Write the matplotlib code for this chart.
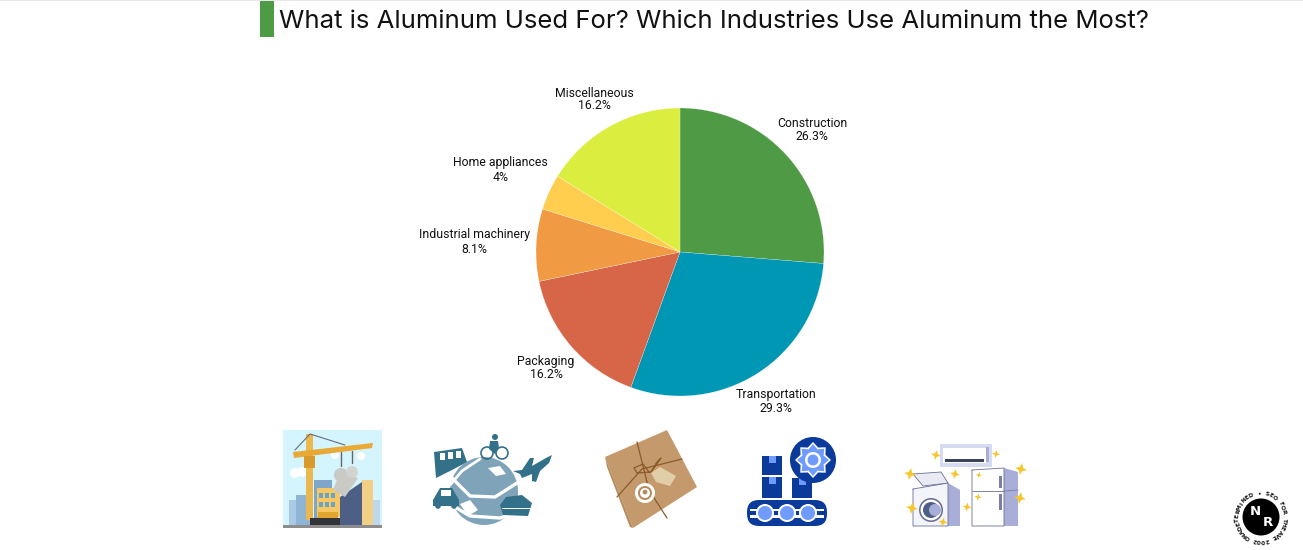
import numpy as np
import matplotlib
matplotlib.use("Agg")
import matplotlib.pyplot as plt
from matplotlib.patches import Rectangle, Polygon, Circle, FancyBboxPatch

# chart data
categories = ["Construction", "Transportation", "Packaging", "Industrial machinery", "Home appliances", "Miscellaneous"]
shares = [26.3, 29.3, 16.2, 8.1, 4, 16.2]
share_labels = ["26.3%", "29.3%", "16.2%", "8.1%", "4%", "16.2%"]
colors = ["#4f9a45", "#0097b5", "#d66647", "#f09a44", "#ffce4f", "#dbed3f"]
label_radius = [1.25, 1.236, 1.23, 1.43, 1.37, 1.215]
label_spacing = [0.92, 1.12, 1.05, 1.12, 1.12, 0.92]

title = "What is Aluminum Used For? Which Industries Use Aluminum the Most?"

W, H = 1303, 550
fig = plt.figure(figsize=(W / 100, H / 100), dpi=100, facecolor="white")

# pie axes sits at pixel box 536..824 / 108..396
ax = fig.add_axes([536 / W, 1 - 396 / H, 288 / W, 288 / H])
wedges, _ = ax.pie(shares, colors=colors, startangle=90, counterclock=False, radius=1,
                   wedgeprops={"linewidth": 0.15, "edgecolor": "white"})
ax.set_xlim(-1, 1)
ax.set_ylim(-1, 1)
for w in wedges:
    w.set_clip_on(False)

for w, name, pct, r, sp in zip(wedges, categories, share_labels, label_radius, label_spacing):
    ang = np.deg2rad((w.theta1 + w.theta2) / 2)
    ax.text(r * np.cos(ang), r * np.sin(ang), name + "\n" + pct, ha="center", va="center",
            fontsize=8.8, family="Roboto", color="#111111", linespacing=sp, clip_on=False)

# everything else is drawn on an overlay in pixel coordinates
ov = fig.add_axes([0, 0, 1, 1], zorder=-1)
ov.set_xlim(0, W)
ov.set_ylim(H, 0)
ov.axis("off")


def rect(x0, y0, x1, y1, c, z=2):
    ov.add_patch(Rectangle((x0, y0), x1 - x0, y1 - y0, fc=c, ec="none", zorder=z))


def poly(pts, c, z=2):
    ov.add_patch(Polygon(pts, closed=True, fc=c, ec="none", zorder=z))


def circ(x, y, r, c, z=2):
    ov.add_patch(Circle((x, y), r, fc=c, ec="none", zorder=z))


def line(xs, ys, c, lw=1.0, z=3):
    ov.plot(xs, ys, color=c, lw=lw, zorder=z, solid_capstyle="round")


def star(x, y, r, c="#f7c52c", z=4):
    a = np.arange(8) * np.pi / 4 + 0.2
    rr = np.where(np.arange(8) % 2 == 0, r, r * 0.4)
    poly(np.c_[x + rr * np.cos(a), y + rr * np.sin(a)], c, z)


# header
rect(0, 0, W, 1, "#e6e8ee")
rect(260, 1, 274, 37, "#4f9a45")
ov.text(279, 21, title, fontsize=18.5, family="Inter", color="#111111", va="center", ha="left")

# crane picture
rect(283, 430, 382, 528, "#d4f5fd", 1)
rect(283, 525, 382, 528, "#8d8d8d", 2)
for x0, y0, x1, c in [(289, 500, 298, "#a9c9e6"), (296, 495, 310, "#8fb5d4"),
                      (314, 480, 332, "#7fa6c9"), (373, 500, 380, "#bcd8ea")]:
    rect(x0, y0, x1, 525, c)
poly([(340, 497), (362, 482), (362, 525), (340, 525)], "#4d5f85", 3)
rect(362, 480, 373, 525, "#f2cf87", 3)
rect(317, 488, 340, 517, "#f5c765", 3)
poly([(333, 490), (340, 472), (358, 478), (345, 497)], "#c9c9c6", 4)
circ(341, 475, 7, "#c9c9c6", 4)
circ(352, 472, 6, "#d3d3d0", 4)
for yy in (493, 502):
    for xx in (319, 325, 331):
        rect(xx, yy, xx + 3.6, yy + 5, "#6aa5c4", 5)
rect(306, 434, 313, 520, "#eab84f", 5)
rect(304, 456, 315, 468, "#d99a2c", 6)
poly([(293, 452), (373, 443), (372, 448), (294, 458)], "#e8a936", 5)
line([295, 310, 345], [450, 434, 445], "#6b6b80", 0.8, 6)
line([341, 341], [452, 466], "#666666", 1.0, 6)
line([352, 352], [451, 463], "#666666", 1.0, 6)
rect(310, 518, 340, 525, "#33333a", 6)
rect(318, 512, 338, 518, "#e0a52f", 6)
circ(295, 473, 5, "white", 2)
circ(302, 472, 5, "white", 2)
circ(335, 455, 4, "white", 2)
circ(361, 456, 4, "white", 2)

# transport globe picture
dark = "#33708a"
circ(484, 491, 34, "#7fa3b8")
poly([(488, 468), (500, 466), (506, 474), (496, 476)], "white", 3)
poly([(460, 504), (470, 500), (478, 510), (468, 516)], "white", 3)
line([452, 470, 495, 517], [478, 496, 497, 483], "white", 2.4)
line([448, 470, 500, 520], [503, 516, 518, 512], "white", 2.4)
line([450, 462, 480], [485, 471, 459], "white", 2.0)
poly([(434, 452), (462, 448), (467, 462), (452, 470), (436, 478)], dark, 4)
rect(440, 453, 445, 460, "white", 5)
rect(448, 452, 453, 459, "white", 5)
rect(456, 451, 461, 458, "white", 5)
poly([(433, 500), (440, 488), (452, 488), (459, 500), (459, 506), (433, 506)], dark, 4)
circ(438, 506, 2.8, dark, 4)
circ(454, 506, 2.8, dark, 4)
rect(441, 490, 451, 496, "white", 5)
poly([(500, 505), (506, 497), (522, 495), (532, 503), (528, 516), (503, 515)], dark, 4)
line([502, 530], [508, 508], "white", 0.7, 5)
for bx in (487, 502):
    ov.add_patch(Circle((bx, 453), 6, fc="none", ec=dark, lw=1.2, zorder=4))
circ(495, 437, 3, dark, 4)
poly([(490, 441), (498, 441), (499, 448), (495, 454), (489, 449)], dark, 4)
poly([(513, 471), (522, 470), (530, 458), (534, 458), (532, 466), (546, 458), (552, 455), (549, 463),
      (540, 471), (536, 482), (532, 481), (532, 474), (522, 478), (520, 474)], dark, 4)

# parcel picture
poly([(605, 457), (667, 430), (697, 487), (633, 528)], "#c49a6c")
poly([(605, 457), (607, 467), (630, 527), (633, 528), (611, 472)], "#b58a5d", 3)
line([637, 649, 667], [442, 490, 518], "#8a5a2b", 0.9)
line([617, 642, 682], [497, 469, 459], "#8a5a2b", 0.9)
line([649, 643, 634, 637, 651], [472, 464, 468, 473, 472], "#8a5a2b", 0.9)
line([651, 657, 661, 654, 651], [472, 462, 458, 468, 472], "#8a5a2b", 0.9)
poly([(651, 473), (660, 467), (676, 476), (670, 486), (656, 482)], "#e2cda9", 4)
circ(645, 493, 10, "white", 4)
circ(645, 493, 7, "#b58a5d", 5)
circ(645, 493, 5, "white", 6)
circ(645, 492, 2.4, "#b58a5d", 7)

# conveyor picture
navy = "#0a3a9a"
ov.add_patch(FancyBboxPatch((747, 500), 80, 26, boxstyle="round,pad=0,rounding_size=12",
                            fc=navy, ec="none", zorder=2))
rect(750, 509, 824, 518, "white", 3)
rect(748, 511, 760, 515, navy, 4)
rect(772, 511, 780, 515, navy, 4)
rect(795, 511, 801, 515, navy, 4)
rect(815, 511, 826, 515, navy, 4)
for gx in (765, 787, 808):
    circ(gx, 513, 9, "white", 4)
    circ(gx, 513, 7, "#6f9bff", 5)
for x0, y0, x1, y1 in [(762, 456, 782, 475), (762, 477, 782, 498), (792, 478, 812, 498)]:
    rect(x0, y0, x1, y1, navy, 3)
    rect((x0 + x1) / 2 - 3.5, y0, (x0 + x1) / 2 + 3.5, y0 + 7, "#6f9bff", 4)
circ(813, 460, 23, navy, 5)
teeth = np.arange(16) * np.pi / 8
gear_r = np.where(np.arange(16) % 2 == 0, 18, 13.5)
poly(np.c_[813 + gear_r * np.cos(teeth), 460 + gear_r * np.sin(teeth)], "white", 6)
poly(np.c_[813 + (gear_r - 2) * np.cos(teeth), 460 + (gear_r - 2) * np.sin(teeth)], "#6f9bff", 7)
circ(813, 460, 8, "white", 8)
circ(813, 460, 5.5, "#6f9bff", 9)

# home appliances picture
lav = "#a9aed9"
rect(940, 444, 992, 467, "#d5dbf0", 2)
rect(943, 448, 986, 463, "white", 3)
rect(945, 459, 984, 462, "#3a3f5c", 4)
rect(986, 447, 989, 462, lav, 4)
# washer
poly([(913, 489), (948, 483), (960, 490), (960, 526), (913, 526)], "#f4f5fb", 2)
poly([(948, 483), (960, 490), (960, 526), (948, 526)], lav, 3)
line([913, 948, 948, 913, 913], [489, 483, 526, 526, 489], "#6a6f93", 0.6)
poly([(913, 474), (941, 472), (948, 483), (923, 486)], "#e9eaf4", 3)
line([913, 941, 948, 923, 913], [474, 472, 483, 486, 474], "#6a6f93", 0.6)
circ(931, 510, 12, "#6a6f93", 4)
circ(931, 510, 10.4, "white", 5)
circ(931, 510, 8, "#4d5f85", 6)
circ(935, 510, 6, lav, 7)
# fridge
poly([(972, 470), (1004, 468), (1018, 472), (1018, 526), (972, 526)], "white", 2)
poly([(1004, 468), (1018, 472), (1018, 526), (1004, 526)], lav, 3)
line([972, 1004, 1004, 972, 972], [470, 468, 526, 526, 470], "#6a6f93", 0.6)
line([972, 1004], [491, 491], "#6a6f93", 0.6)
line([1004, 1018], [491, 490], "#7a7fa8", 0.6)
rect(999, 476, 1002, 488, "#7a7fa8", 4)
rect(999, 494, 1002, 510, "#7a7fa8", 4)
for sx, sy, sr in [(936, 455, 5), (996, 454, 4), (910, 474, 6), (955, 474, 5), (1021, 469, 6),
                   (979, 475, 3), (978, 497, 3.5), (1020, 498, 6), (967, 507, 4.5),
                   (912, 508, 6), (943, 522, 4.5)]:
    star(sx, sy, sr)

# logo badge
cx, cy = 1261, 517
circ(cx, cy, 18.5, "black", 3)
ov.text(cx - 6, cy - 5.5, "N", fontsize=9.5, family="DejaVu Sans", fontweight="bold", color="white",
        ha="center", va="center", zorder=5)
ov.text(cx + 6.5, cy + 6, "R", fontsize=9.5, family="DejaVu Sans", fontweight="bold", color="white",
        ha="center", va="center", zorder=5)


def ring_text(s, mid_deg, step, r):
    n = len(s)
    for i, ch in enumerate(s):
        a = mid_deg + ((n - 1) / 2 - i) * step
        x = cx + r * np.cos(np.deg2rad(a))
        y = cy - r * np.sin(np.deg2rad(a))
        ov.text(x, y, ch, fontsize=4.2, fontweight="bold", color="#111111", ha="center", va="center",
                rotation=a - 90, zorder=5)


ring_text("DETERMINED • SEO FOR THE", 90, 10.2, 23.5)
ring_text("AVE 2002 ONA", 270, 9.5, 23.5)

fig.savefig("out.png", dpi=100, facecolor="white")
